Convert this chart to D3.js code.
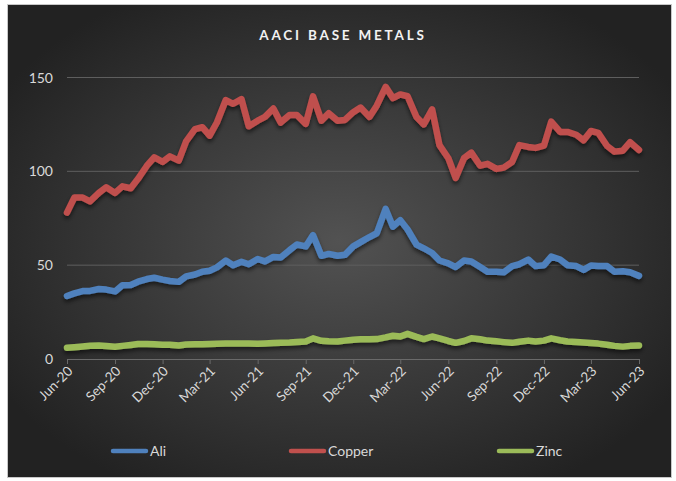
<!DOCTYPE html>
<html>
<head>
<meta charset="utf-8">
<script src="https://cdn.jsdelivr.net/npm/d3@7"></script>
<style>
  body { margin: 0; background: #ffffff; }
  svg { display: block; font-family: Lato, "Open Sans", sans-serif; }
</style>
</head>
<body>
<svg id="chart" width="676" height="481"></svg>
<script>
// semi-monthly readings, Jun 2020 to Jun 2023
const dates = [
  "2020-06-01","2020-06-15","2020-07-01","2020-07-15","2020-08-01","2020-08-15",
  "2020-09-01","2020-09-15","2020-10-01","2020-10-15","2020-11-01","2020-11-15",
  "2020-12-01","2020-12-15","2021-01-01","2021-01-15","2021-02-01","2021-02-15",
  "2021-03-01","2021-03-15","2021-04-01","2021-04-15","2021-05-01","2021-05-15",
  "2021-06-01","2021-06-15","2021-07-01","2021-07-15","2021-08-01","2021-08-15",
  "2021-09-01","2021-09-15","2021-10-01","2021-10-15","2021-11-01","2021-11-15",
  "2021-12-01","2021-12-15","2022-01-01","2022-01-15","2022-02-01","2022-02-15",
  "2022-03-01","2022-03-15","2022-04-01","2022-04-15","2022-05-01","2022-05-15",
  "2022-06-01","2022-06-15","2022-07-01","2022-07-15","2022-08-01","2022-08-15",
  "2022-09-01","2022-09-15","2022-10-01","2022-10-15","2022-11-01","2022-11-15",
  "2022-12-01","2022-12-15","2023-01-01","2023-01-15","2023-02-01","2023-02-15",
  "2023-03-01","2023-03-15","2023-04-01","2023-04-15","2023-05-01","2023-05-15",
  "2023-06-01"
];

const ali = [
  33.6, 35, 36.2, 36.3, 37.3, 37, 36, 39.3, 39.4, 41.2, 42.6, 43.3,
  42.3, 41.6, 41.1, 44, 45, 46.5, 47, 48.8, 52.5, 50, 51.8, 50.5,
  53.3, 52, 54.4, 54.1, 58, 61, 60, 66, 55, 56, 55, 55.5,
  60, 62.3, 65, 67, 80, 70.5, 74, 69, 61, 59, 56.5, 52.5,
  51, 49, 52.5, 52, 49, 46.5, 46.5, 46.2, 49.5, 50.5, 53, 49.5,
  50, 54.6, 53, 50, 49.5, 47.5, 49.8, 49.5, 49.5, 46.5, 46.8, 46.2,
  44.3
];

const copper = [
  78, 86, 86, 84, 88.5, 91.5, 88.5, 92, 91, 96, 103, 107.5,
  105, 108, 105.7, 116, 122.5, 123.5, 119, 126, 138, 136, 138.5, 124,
  127, 129, 133.5, 126, 130, 130, 125.3, 140, 127, 131, 127, 127.4,
  131.5, 134, 129, 135, 145, 139, 141, 140, 129, 125, 133, 114,
  107, 96.5, 107, 110, 103, 104, 101.3, 102, 105, 114, 113, 112.5,
  113.7, 126.5, 121, 121, 119.5, 116.5, 121.5, 120.5, 113.5, 110.5, 111, 115.5,
  111.4
];

const zinc = [
  6, 6.3, 6.7, 7, 7.2, 6.9, 6.5, 7, 7.5, 8, 8, 7.8,
  7.6, 7.6, 7.2, 7.7, 7.8, 7.9, 8, 8.1, 8.2, 8.3, 8.3, 8.2,
  8.1, 8.3, 8.5, 8.7, 8.8, 9, 9.3, 11, 9.7, 9.4, 9.3, 9.8,
  10.3, 10.5, 10.5, 10.6, 11.5, 12.4, 12, 13.4, 11.8, 10.6, 12, 11,
  9.6, 8.6, 9.6, 11, 10.5, 9.8, 9.4, 9, 8.6, 9.2, 9.8, 9.3,
  9.8, 11, 10, 9.3, 9, 8.8, 8.5, 8.2, 7.6, 7, 6.6, 7,
  7.2
];

const seriesNames = ["Ali", "Copper", "Zinc"];
const seriesColors = ["#4f81bd", "#c0504d", "#9bbb59"];

const tickDates = [
  "2020-06-01","2020-09-01","2020-12-01","2021-03-01","2021-06-01","2021-09-01",
  "2021-12-01","2022-03-01","2022-06-01","2022-09-01","2022-12-01","2023-03-01",
  "2023-06-01"
];
const tickLabels = [
  "Jun-20","Sep-20","Dec-20","Mar-21","Jun-21","Sep-21","Dec-21",
  "Mar-22","Jun-22","Sep-22","Dec-22","Mar-23","Jun-23"
];
const yTicks = [0, 50, 100, 150];

const parse = d3.timeParse("%Y-%m-%d");
const series = [ali, copper, zinc].map((vals, k) => ({
  name: seriesNames[k],
  color: seriesColors[k],
  values: vals.map((v, i) => ({ date: parse(dates[i]), value: v }))
}));

const svg = d3.select("#chart");
const defs = svg.append("defs");

// dark radial background like the Excel style
const grad = defs.append("radialGradient")
  .attr("id", "bg")
  .attr("cx", "50%").attr("cy", "50%").attr("r", "60%");
grad.append("stop").attr("offset", "0%").attr("stop-color", "#525252");
grad.append("stop").attr("offset", "100%").attr("stop-color", "#222222");

const shadow = defs.append("filter")
  .attr("id", "shadow")
  .attr("x", "-5%").attr("y", "-20%").attr("width", "110%").attr("height", "140%");
shadow.append("feDropShadow")
  .attr("dx", 0).attr("dy", 3)
  .attr("stdDeviation", 2)
  .attr("flood-color", "#000")
  .attr("flood-opacity", 0.55);

svg.append("rect")
  .attr("x", 7.5).attr("y", 4.5)
  .attr("width", 664).attr("height", 473)
  .attr("fill", "url(#bg)")
  .attr("stroke", "#c8c8c8")
  .attr("stroke-width", 1);

const x = d3.scaleTime()
  .domain([parse(dates[0]), parse(dates[dates.length - 1])])
  .range([67, 639]);

const y = d3.scaleLinear()
  .domain([0, 150])
  .range([359, 77.5]);

// title
svg.append("text")
  .attr("x", 343)
  .attr("y", 40)
  .attr("text-anchor", "middle")
  .attr("fill", "#f2f2f2")
  .attr("font-size", 13.5)
  .attr("font-weight", "bold")
  .attr("letter-spacing", 2.8)
  .text("AACI BASE METALS");

// gridlines
svg.append("g")
  .selectAll("line")
  .data(yTicks.filter(t => t > 0))
  .enter()
  .append("line")
  .attr("x1", 67).attr("x2", 639)
  .attr("y1", d => y(d)).attr("y2", d => y(d))
  .attr("stroke", "#5e5e5e")
  .attr("stroke-width", 1);

// y axis labels
svg.append("g")
  .selectAll("text")
  .data(yTicks)
  .enter()
  .append("text")
  .attr("x", 53)
  .attr("y", d => y(d) + 5)
  .attr("text-anchor", "end")
  .attr("fill", "#d9d9d9")
  .attr("font-size", 14)
  .text(d => d);

// x axis
const xAxis = d3.axisBottom(x)
  .tickValues(tickDates.map(parse))
  .tickSize(5)
  .tickFormat((d, i) => tickLabels[i]);

const gx = svg.append("g")
  .attr("transform", "translate(0,359)")
  .call(xAxis);

gx.select(".domain").attr("stroke", "#6a6a6a");
gx.selectAll(".tick line").attr("stroke", "#6a6a6a");
gx.selectAll(".tick text")
  .attr("fill", "#d9d9d9")
  .attr("font-size", 13.5)
  .attr("font-family", "Lato, 'Open Sans', sans-serif")
  .attr("text-anchor", "end")
  .attr("dy", null)
  .attr("y", 0)
  .attr("transform", "translate(6,13) rotate(-45)");

// lines
const line = d3.line()
  .x(d => x(d.date))
  .y(d => y(d.value))
  .curve(d3.curveLinear);

svg.append("g")
  .attr("filter", "url(#shadow)")
  .selectAll("path")
  .data(series)
  .enter()
  .append("path")
  .attr("d", d => line(d.values))
  .attr("fill", "none")
  .attr("stroke", d => d.color)
  .attr("stroke-width", 6.5)
  .attr("stroke-linejoin", "round")
  .attr("stroke-linecap", "round");

// legend
const legendX = [113, 291, 499];
const legend = svg.append("g")
  .selectAll("g")
  .data(series)
  .enter()
  .append("g")
  .attr("transform", (d, i) => `translate(${legendX[i]},451)`);

legend.append("line")
  .attr("x1", 0).attr("x2", 33)
  .attr("stroke", d => d.color)
  .attr("stroke-width", 4.5)
  .attr("stroke-linecap", "round");

legend.append("text")
  .attr("x", 37)
  .attr("y", 5)
  .attr("fill", "#d9d9d9")
  .attr("font-size", 14)
  .text(d => d.name);
</script>
</body>
</html>
